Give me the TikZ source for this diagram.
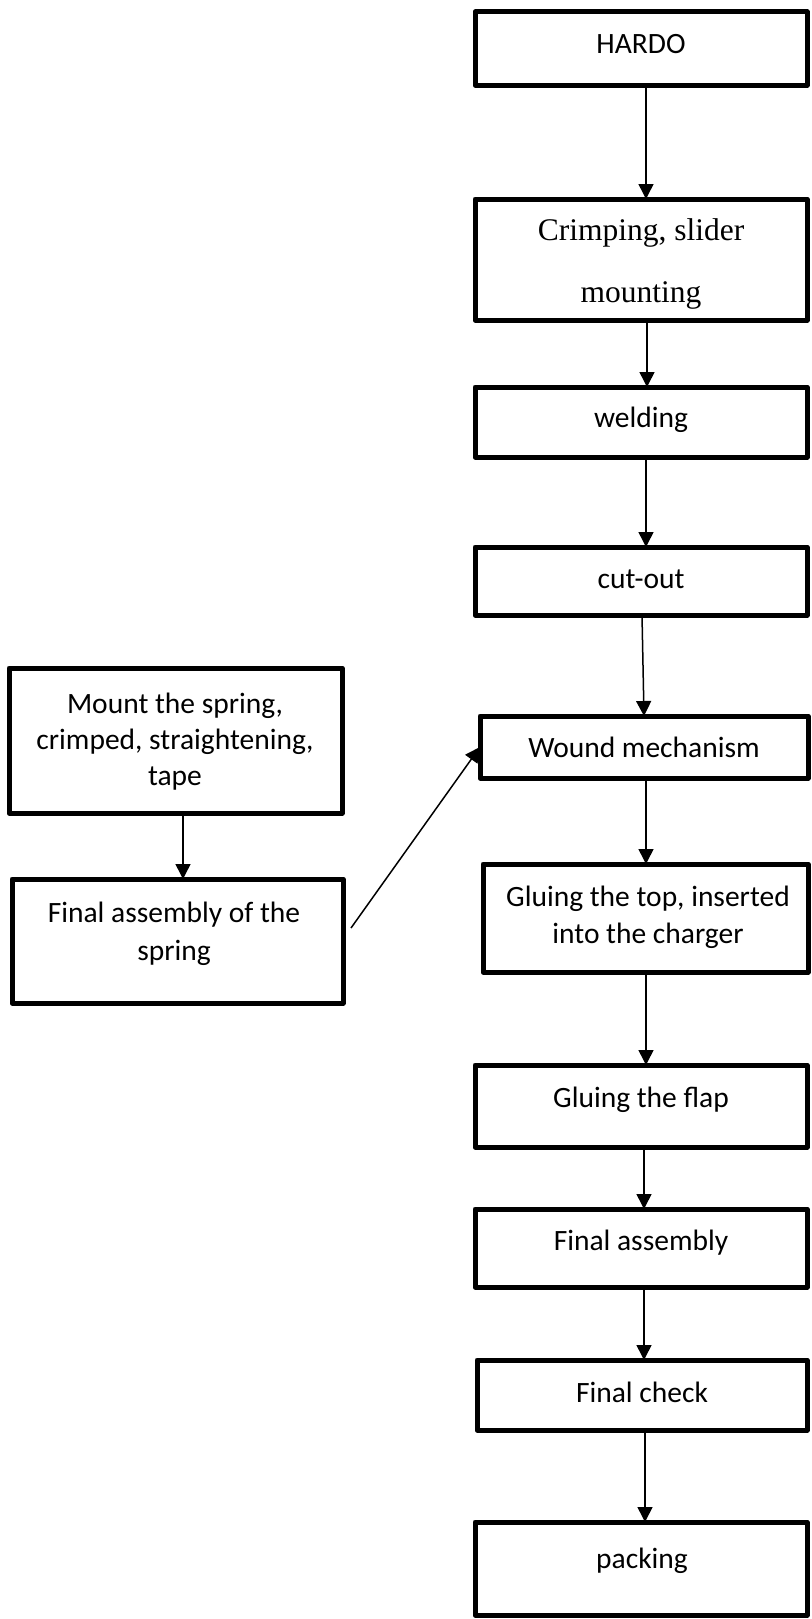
\documentclass[tikz,border=0pt]{standalone}
\usepackage{fontspec}
\setmainfont{Carlito}
\newfontfamily\serifrm{Liberation Serif}
\usetikzlibrary{arrows.meta,fit}
\begin{document}
\begin{tikzpicture}[x=1pt,y=-1pt,
  box/.style={draw, line width=5pt, line join=round, inner sep=0pt, outer sep=0pt},
  lbl/.style={anchor=base, align=center, inner sep=0pt, font=\fontsize{29.5}{37}\selectfont},
  arr/.style={line width=1.5pt, -{Triangle[width=15pt,length=15pt]}}]
\useasboundingbox (0,0) rectangle (811,1619);
% boxes
\node[box, fit={(475,12) (807,85)}] (hardo) {};
\node[box, fit={(475,199) (807,320)}] (crimp) {};
\node[box, fit={(475,387) (807,457)}] (weld) {};
\node[box, fit={(475,547) (807,615)}] (cut) {};
\node[box, fit={(480,716) (808,778)}] (wound) {};
\node[box, fit={(483,864) (808,972)}] (gtop) {};
\node[box, fit={(475,1065) (807,1147)}] (flap) {};
\node[box, fit={(475,1209) (807,1287)}] (fasm) {};
\node[box, fit={(477,1360) (807,1430)}] (check) {};
\node[box, fit={(475,1522) (807,1615)}] (pack) {};
\node[box, fit={(9,668) (342,813)}] (mount) {};
\node[box, fit={(12,879) (343,1003)}] (fspring) {};
% texts (multi-line: anchor is the baseline of the last line)
\node[lbl] (thardo) at (641,53) {HARDO};
\node[lbl, font=\serifrm\fontsize{31.5}{62}\selectfont] (tcrimp) at (641,302) {Crimping, slider\\mounting};
\node[lbl] (tweld) at (641,427) {welding};
\node[lbl] (tcut) at (641,588) {cut-out};
\node[lbl] (twound) at (644,757) {Wound mechanism};
\node[lbl] (tgtop) at (648,943) {Gluing the top, inserted\\into the charger};
\node[lbl] (tflap) at (641,1107) {Gluing the flap};
\node[lbl] (tfasm) at (641,1250) {Final assembly};
\node[lbl] (tcheck) at (642,1402) {Final check};
\node[lbl] (tpack) at (642,1568) {packing};
\node[lbl, font=\fontsize{29.5}{36}\selectfont] (tmount) at (175,785) {Mount the spring,\\crimped, straightening,\\tape};
\node[lbl, font=\fontsize{29.5}{38}\selectfont] (tfspring) at (174,960) {Final assembly of the\\spring};
% column coordinates
\coordinate (c183) at (183,0);
\coordinate (c642) at (642,0);
\coordinate (c644) at (644,0);
\coordinate (c645) at (645,0);
\coordinate (c646) at (646,0);
\coordinate (c647) at (647,0);
\coordinate (dstart) at (351,928);
% connectors
\draw[arr] (hardo.south -| c646) -- (crimp.north -| c646);
\draw[arr] (crimp.south -| c647) -- (weld.north -| c647);
\draw[arr] (weld.south -| c646) -- (cut.north -| c646);
\draw[arr] (cut.south -| c642) -- (wound.north -| c644);
\draw[arr] (wound.south -| c646) -- (gtop.north -| c646);
\draw[arr] (gtop.south -| c646) -- (flap.north -| c646);
\draw[arr] (flap.south -| c644) -- (fasm.north -| c644);
\draw[arr] (fasm.south -| c644) -- (check.north -| c644);
\draw[arr] (check.south -| c645) -- (pack.north -| c645);
\draw[arr] (mount.south -| c183) -- (fspring.north -| c183);
\draw[arr] (dstart) -- (wound.west);
\end{tikzpicture}
\end{document}
